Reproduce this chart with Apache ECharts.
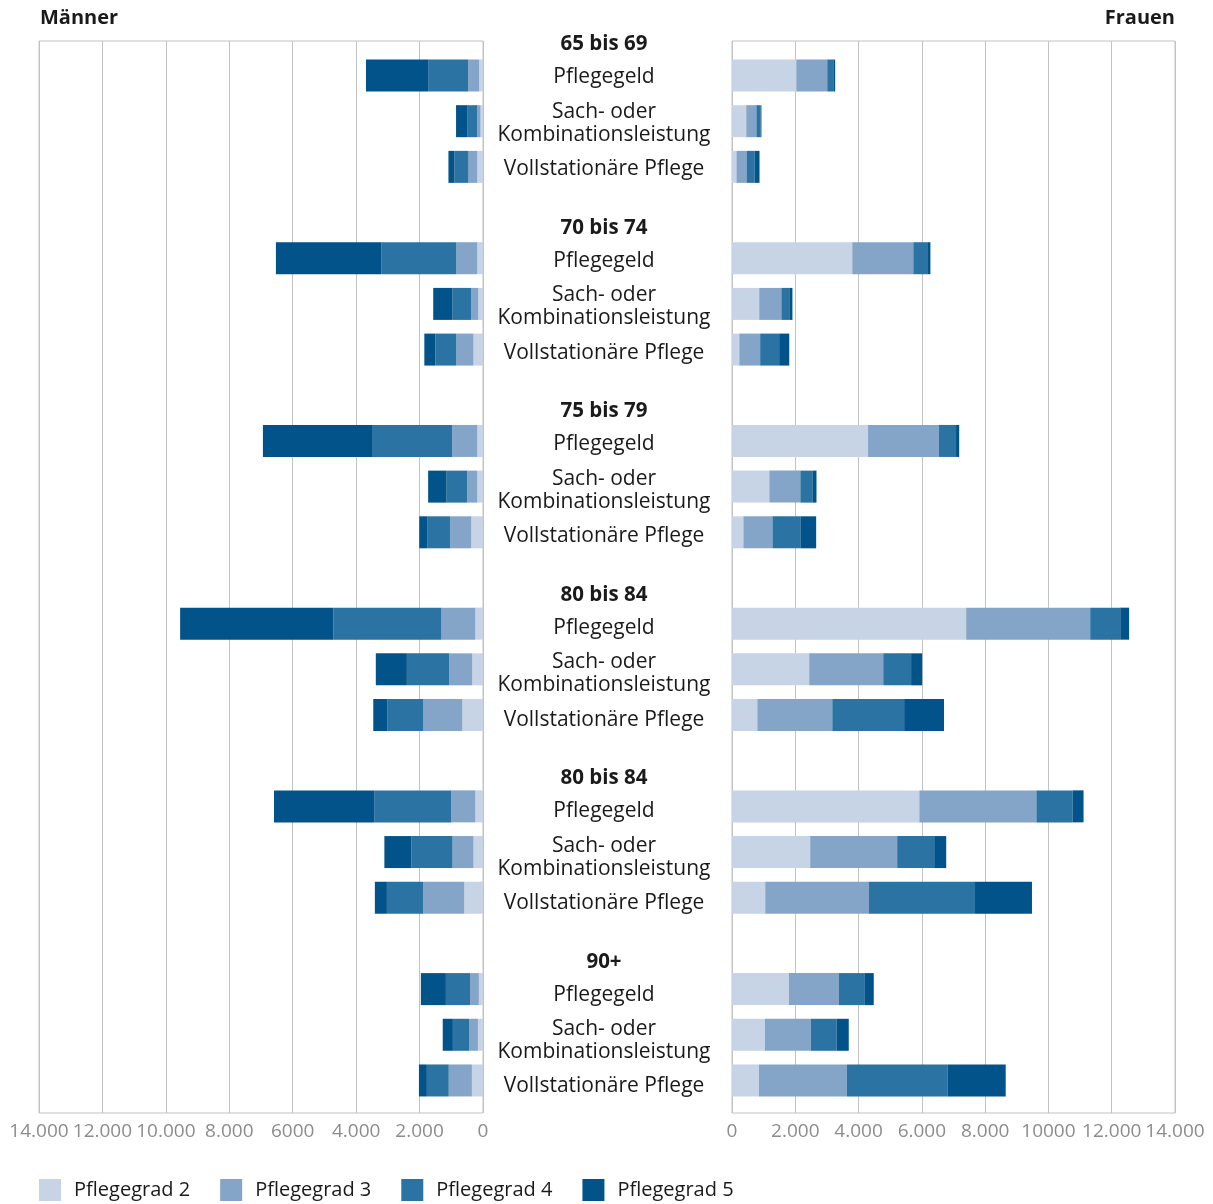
<!DOCTYPE html>
<html>
<head>
<meta charset="utf-8">
<script src="https://cdn.jsdelivr.net/npm/echarts@6/dist/echarts.min.js"></script>
<style>
html,body{margin:0;padding:0;background:#fff;}
#chart{width:1213px;height:1204px;}
</style>
</head>
<body>
<div id="chart"></div>
<script>
// ---- data ----
var ageGroups = ['65 bis 69', '70 bis 74', '75 bis 79', '80 bis 84', '80 bis 84', '90+'];
var benefitTypes = ['Pflegegeld', 'Sach- oder\nKombinationsleistung', 'Vollstationäre Pflege'];
var gradeNames = ['Pflegegrad 2', 'Pflegegrad 3', 'Pflegegrad 4', 'Pflegegrad 5'];
var leftTickLabels = ['0', '2.000', '4.000', '6000', '8.000', '10.000', '12.000', '14.000'];
var rightTickLabels = ['0', '2.000', '4.000', '6.000', '8.000', '10000', '12.000', '14.000'];
var sexTitles = ['Männer', 'Frauen'];

// order per age group: Pflegegeld, Sach-/Kombinationsleistung, Vollstationäre Pflege
var menPG2 = [120, 80, 180, 180, 150, 300, 180, 180, 370, 240, 340, 650, 240, 300, 590, 130, 160, 350];
var menPG3 = [350, 100, 280, 660, 220, 540, 790, 320, 660, 1070, 730, 1230, 760, 660, 1300, 280, 280, 730];
var menPG4 = [1260, 320, 440, 2370, 600, 660, 2530, 660, 730, 3410, 1330, 1140, 2430, 1300, 1140, 760, 510, 690];
var menPG5 = [1960, 350, 190, 3320, 600, 350, 3440, 570, 250, 4830, 980, 440, 3160, 850, 380, 790, 320, 250];

var womenPG2 = [2030, 450, 140, 3800, 860, 230, 4300, 1180, 360, 7400, 2440, 800, 5920, 2470, 1050, 1800, 1040, 850];
var womenPG3 = [980, 320, 320, 1930, 700, 660, 2240, 980, 920, 3920, 2340, 2370, 3700, 2750, 3280, 1580, 1450, 2780];
var womenPG4 = [210, 130, 250, 440, 250, 600, 540, 380, 880, 950, 880, 2270, 1140, 1170, 3350, 820, 820, 3190];
var womenPG5 = [40, 30, 160, 100, 100, 320, 100, 130, 500, 280, 350, 1260, 350, 380, 1800, 280, 380, 1830];

var colors = ['#c7d4e6', '#84a5c8', '#2a73a3', '#025389'];

// ---- build rows: per age group one header row + three benefit rows ----
var rowIds = [], rowLabels = [], rowIsHeader = [];
ageGroups.forEach(function (g, gi) {
  rowIds.push('h' + gi); rowLabels.push(g); rowIsHeader.push(true);
  benefitTypes.forEach(function (b, bi) {
    rowIds.push('r' + gi + '_' + bi); rowLabels.push(b); rowIsHeader.push(false);
  });
});
function expand(arr) {
  var out = [], k = 0;
  for (var i = 0; i < rowIds.length; i++) {
    if (rowIsHeader[i]) out.push('-'); else out.push(arr[k++]);
  }
  return out;
}

var menSets = [menPG2, menPG3, menPG4, menPG5];
var womenSets = [womenPG2, womenPG3, womenPG4, womenPG5];

var FONT = '"Open Sans", "Noto Sans", sans-serif';
var ROWH = 45.68;
var barTop = 75.5 - 1.5 * ROWH;
var barHeight = ROWH * rowIds.length;
var LROWH = 45.86;
var labTop = 77.5 - 1.5 * LROWH;
var labHeight = LROWH * rowIds.length;

var series = [];
menSets.forEach(function (arr, i) {
  series.push({
    name: gradeNames[i], type: 'bar', stack: 'men', xAxisIndex: 2, yAxisIndex: 2,
    data: expand(arr), barWidth: 32, itemStyle: { color: colors[i] }, silent: true
  });
});
womenSets.forEach(function (arr, i) {
  series.push({
    name: gradeNames[i], type: 'bar', stack: 'women', xAxisIndex: 3, yAxisIndex: 3,
    data: expand(arr), barWidth: 32, itemStyle: { color: colors[i] }, silent: true
  });
});

var gridLineColor = '#c3c3c3';
function frameX(gridIndex, inverse, labels) {
  return {
    type: 'value', gridIndex: gridIndex, min: 0, max: 14000, interval: 2000, inverse: inverse,
    axisLine: { show: false }, axisTick: { show: false },
    splitLine: { show: true, lineStyle: { color: gridLineColor, width: 1 } },
    axisLabel: {
      margin: 9, color: '#8c8c8c', fontSize: 19, fontFamily: FONT,
      formatter: function (v) { return labels[Math.round(v / 2000)]; }
    }
  };
}
function hiddenX(gridIndex, inverse) {
  return { type: 'value', gridIndex: gridIndex, min: 0, max: 14000, inverse: inverse, show: false, splitLine: { show: false } };
}

var option = {
  animation: false,
  textStyle: { fontFamily: FONT },
  title: [
    { text: sexTitles[0], left: 40, top: 8, padding: 0, textStyle: { fontSize: 20, fontWeight: 'bold', color: '#1a1a1a', fontFamily: FONT } },
    { text: sexTitles[1], right: 38, top: 8, padding: 0, textStyle: { fontSize: 20, fontWeight: 'bold', color: '#1a1a1a', fontFamily: FONT } }
  ],
  legend: {
    left: 39, top: 1179, padding: 0, itemWidth: 22, itemHeight: 22, itemGap: 30, icon: 'rect',
    data: gradeNames,
    textStyle: { fontSize: 20, color: '#1a1a1a', fontFamily: FONT, padding: [0, 0, 0, 8] }
  },
  grid: [
    { left: 39, width: 444, top: 41, height: 1072, show: true, borderColor: gridLineColor, borderWidth: 1, backgroundColor: 'transparent', containLabel: false },
    { left: 732, width: 443, top: 41, height: 1072, show: true, borderColor: gridLineColor, borderWidth: 1, backgroundColor: 'transparent', containLabel: false },
    { left: 39, width: 444, top: barTop, height: barHeight, containLabel: false },
    { left: 732, width: 443, top: barTop, height: barHeight, containLabel: false },
    { left: 39, width: 444, top: labTop, height: labHeight, containLabel: false }
  ],
  xAxis: [
    frameX(0, true, leftTickLabels),
    frameX(1, false, rightTickLabels),
    hiddenX(2, true),
    hiddenX(3, false),
    hiddenX(4, true)
  ],
  yAxis: [
    { type: 'value', gridIndex: 0, show: false, splitLine: { show: false } },
    { type: 'value', gridIndex: 1, show: false, splitLine: { show: false } },
    { type: 'category', gridIndex: 2, data: rowIds, inverse: true, show: false },
    { type: 'category', gridIndex: 3, data: rowIds, inverse: true, show: false },
    {
      type: 'category', gridIndex: 4, data: rowIds, inverse: true, position: 'right',
      axisLine: { show: false }, axisTick: { show: false }, splitLine: { show: false },
      axisLabel: {
        interval: 0, align: 'center', margin: 121, fontSize: 21, lineHeight: 23,
        color: '#1a1a1a', fontFamily: FONT, hideOverlap: false,
        formatter: function (v, i) {
          return rowIsHeader[i] ? '{h|' + rowLabels[i] + '}' : rowLabels[i];
        },
        rich: {
          h: { fontWeight: 'bold', fontSize: 20.5, color: '#1a1a1a', fontFamily: FONT, padding: [26, 0, 0, 0] }
        }
      }
    }
  ],
  series: series
};

var chart = echarts.init(document.getElementById('chart'), null, { renderer: 'canvas' });
chart.setOption(option);
</script>
</body>
</html>
